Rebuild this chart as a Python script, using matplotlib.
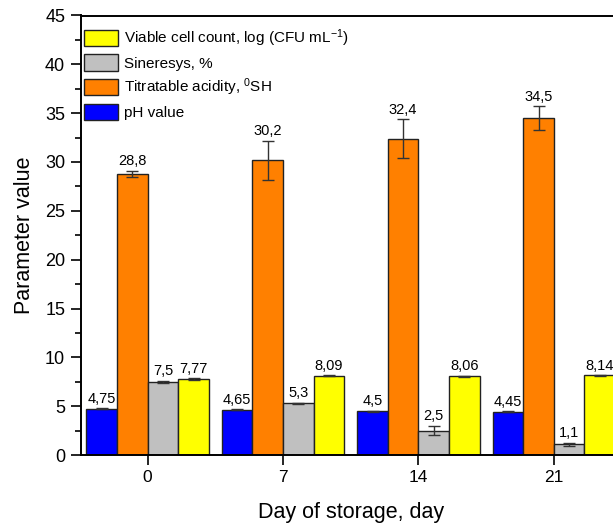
import numpy as np
import matplotlib
matplotlib.use("Agg")
import matplotlib.pyplot as plt
from matplotlib.ticker import MultipleLocator

plt.rcParams['font.family'] = ['Liberation Sans', 'DejaVu Sans']
plt.rcParams['mathtext.fontset'] = 'custom'
plt.rcParams['mathtext.rm'] = 'Liberation Sans'
plt.rcParams['mathtext.it'] = 'Liberation Sans'

# data
days = ["0", "7", "14", "21"]
ph = [4.75, 4.65, 4.5, 4.45]
ph_err = [0.05, 0.05, 0.05, 0.05]
acidity = [28.8, 30.2, 32.4, 34.5]
acidity_err = [0.3, 2.0, 2.0, 1.2]
syneresis = [7.5, 5.3, 2.5, 1.1]
syneresis_err = [0.1, 0.05, 0.5, 0.15]
viable = [7.77, 8.09, 8.06, 8.14]
viable_err = [0.1, 0.05, 0.05, 0.05]
ph_lbl = ["4,75", "4,65", "4,5", "4,45"]
acid_lbl = ["28,8", "30,2", "32,4", "34,5"]
syn_lbl = ["7,5", "5,3", "2,5", "1,1"]
via_lbl = ["7,77", "8,09", "8,06", "8,14"]

series = [
    (ph, ph_err, ph_lbl, "#0000FF", "pH value"),
    (acidity, acidity_err, acid_lbl, "#FF8000", "Titratable acidity, $^{0}$SH"),
    (syneresis, syneresis_err, syn_lbl, "#C0C0C0", "Sineresys, %"),
    (viable, viable_err, via_lbl, "#FFFF00", "Viable cell count, log (CFU mL$^{-1}$)"),
]

fig = plt.figure(figsize=(6.13, 5.24), dpi=100)
W, H = 613, 524
ax = fig.add_axes([80.5 / W, (H - 455) / H, (621 - 80.5) / W, (455 - 15.5) / H])

x = np.arange(len(days))
w = 0.226
handles = []
for k, (vals, errs, lbls, c, name) in enumerate(series):
    pos = x + (k - 1.5) * w
    b = ax.bar(pos, vals, w, color=c, edgecolor="#222222", linewidth=1.0, label=name, zorder=2)
    ax.errorbar(pos, vals, yerr=errs, fmt="none", ecolor="#333333", elinewidth=1.0,
                capsize=4, capthick=1.0, zorder=3)
    for p, v, e, t in zip(pos, vals, errs, lbls):
        ax.text(p, v + e + 0.25, t, ha="center", va="bottom", fontsize=10.5, zorder=4)
    handles.append(b)

ax.set_xlim(-0.496, 3.496)
ax.set_ylim(0, 45)
ax.set_xticks(x)
ax.set_xticklabels(days)
ax.yaxis.set_major_locator(MultipleLocator(5))
ax.yaxis.set_minor_locator(MultipleLocator(2.5))
ax.tick_params(axis="both", which="major", direction="out", length=7, width=1.2, pad=4)
ax.tick_params(axis="x", labelsize=12.5)
ax.tick_params(axis="y", labelsize=13)
ax.tick_params(axis="y", which="minor", direction="out", length=4, width=1.2)
for s in ["left", "bottom", "top"]:
    ax.spines[s].set_linewidth(1.4)
ax.spines["right"].set_visible(False)

ax.set_xlabel("Day of storage, day", fontsize=15.5, labelpad=12)
ax.set_ylabel("Parameter value", fontsize=15.5, labelpad=7)

leg = ax.legend(handles=handles[::-1], loc="upper left", bbox_to_anchor=(0.0065, 0.9735),
                frameon=False, fontsize=11, handlelength=2.2, handleheight=1.25,
                labelspacing=0.37, handletextpad=0.4, borderaxespad=0.0, borderpad=0.0)

fig.savefig("out.png", dpi=100)
